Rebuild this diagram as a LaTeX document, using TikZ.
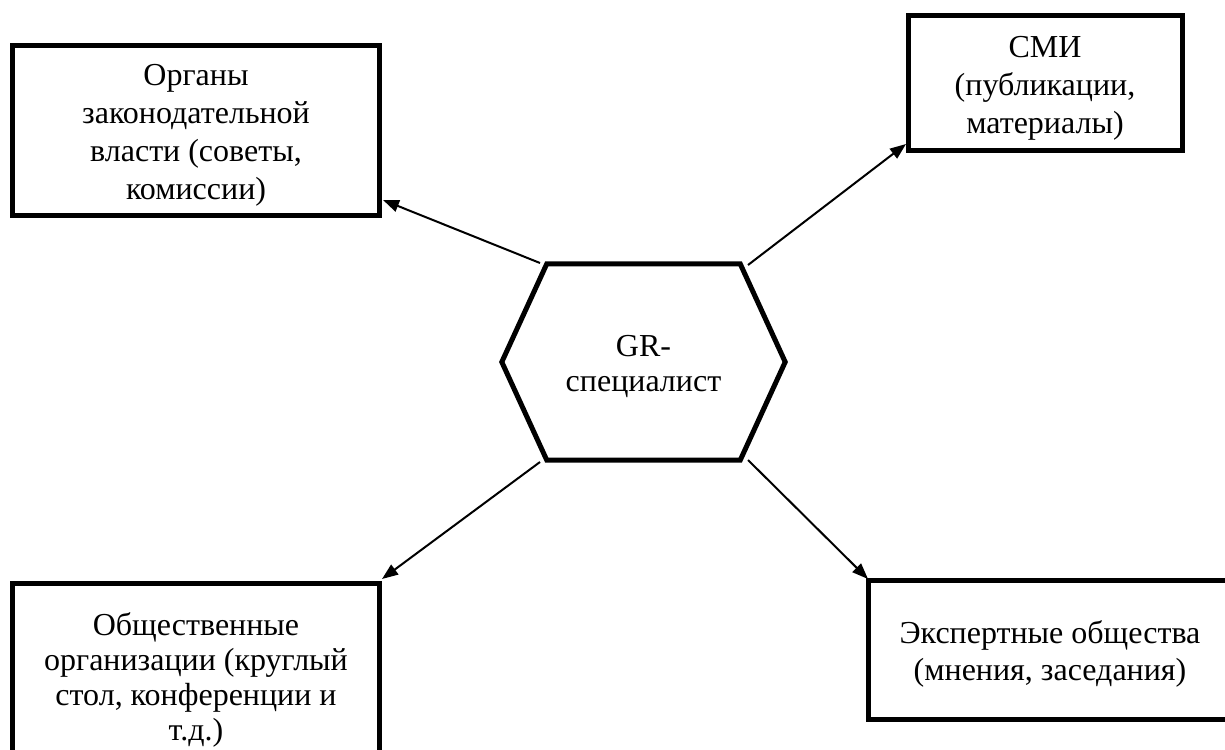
\documentclass[tikz,border=0pt]{standalone}
\usepackage{fontspec}
\setmainfont{Liberation Serif}
\usetikzlibrary{arrows.meta,calc}
\newcommand{\topstrut}{\rule{0pt}{31pt}}
\tikzset{
  boxnode/.style={draw, line width=5pt, inner sep=0pt, align=center,
    font=\fontsize{32}{38}\selectfont},
  arr/.style={line width=2pt, -{Triangle[length=16pt,width=12pt]}},
  hexline/.style={line width=5pt, line join=miter}
}
\begin{document}
\begin{tikzpicture}[x=1pt,y=-1pt]
\useasboundingbox (0,0) rectangle (1225,749);
\clip (0,0) rectangle (1225,749);
\fill[white] (0,0) rectangle (1225,749);
% boxes
\node[boxnode, minimum width=367.5pt, minimum height=169pt] (leg) at (196,130.5)
  {\topstrut Органы\\законодательной\\власти (советы,\\комиссии)};
\node[boxnode, minimum width=274pt, minimum height=135pt] (smi) at (1045,83)
  {\topstrut СМИ\\(публикации,\\материалы)};
\node[boxnode, minimum width=367.5pt, minimum height=186pt, font=\fontsize{32}{35}\selectfont] (obs) at (196,676)
  {\topstrut Общественные\\организации (круглый\\стол, конференции и\\т.д.)};
\node[boxnode, minimum width=364pt, minimum height=139pt, font=\fontsize{32}{37}\selectfont] (exp) at (1050,650)
  {\topstrut Экспертные общества\\(мнения, заседания)};
% hexagon
\node[inner sep=0pt, minimum width=283pt, minimum height=196pt, align=center,
  font=\fontsize{32}{35}\selectfont] (gr) at (643.5,362) {\topstrut GR-\\специалист};
\draw[hexline] (gr.west) -- ($(gr.north west)+(45,0)$) -- ($(gr.north east)+(-45,0)$)
  -- (gr.east) -- ($(gr.south east)+(-45,0)$) -- ($(gr.south west)+(45,0)$) -- cycle;
% connector end points
\coordinate (s1) at (540,263);
\coordinate (t1) at (383,200);
\coordinate (s2) at (748,265);
\coordinate (t2) at (906,144);
\coordinate (s3) at (540,462);
\coordinate (t3) at (382,579);
\coordinate (s4) at (748,460);
\coordinate (t4) at (868,579);
\draw[arr] (s1) -- (t1);
\draw[arr] (s2) -- (t2);
\draw[arr] (s3) -- (t3);
\draw[arr] (s4) -- (t4);
\end{tikzpicture}
\end{document}
